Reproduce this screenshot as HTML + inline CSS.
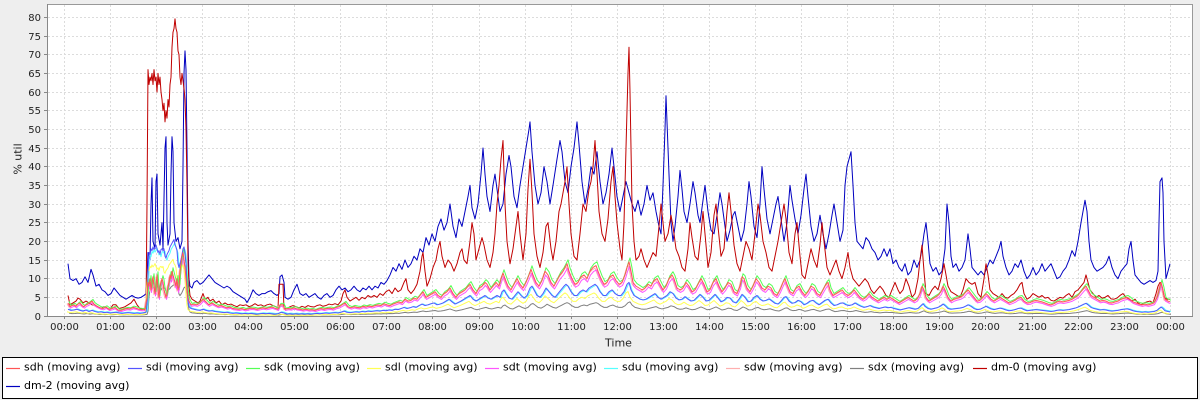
<!DOCTYPE html>
<html>
<head>
<meta charset="utf-8">
<style>
html,body{margin:0;padding:0;background:#eeeeee;}
svg{display:block;}
text{font-family:"DejaVu Sans","Liberation Sans",sans-serif;}
.tk{font-size:10px;fill:#222;}
.lab{font-size:11px;fill:#222;}
.lg{font-size:11px;fill:#000;}
.s{fill:none;stroke-width:1;vector-effect:non-scaling-stroke;stroke-linejoin:round;}
</style>
</head>
<body>
<svg width="1200" height="400" viewBox="0 0 1200 400" xmlns="http://www.w3.org/2000/svg">
<defs>
<clipPath id="pc"><rect x="48" y="4" width="1144" height="312"/></clipPath>
<polyline id="A" class="s" points="68,3.5 70,2.5 72,2.8 74,3 76,2.6 78,3.2 80,3.5 82,2.8 84,2.5 86,3 88,3.2 90,3.6 92,4 94,3.2 96,2.8 98,2.5 100,2.2 103,2 106,2.4 109,1.8 112,2 115,2.3 118,1.6 121,1.5 124,1.8 127,2 130,1.9 133,2.3 136,2.1 139,1.8 142,1.7 145,1.8 147,5 148,9 149,8 150,10 151,7 152,9 153,10.5 154,8 155,6 156,8 157,11 158,7 159,5 160,8 161,9 162,10 163,9 164,7 165,6 166,5 167,6 168,8 169,9 170,11 171,10 172,12 173,11 174,10 175,9 176,8 177,10 178,7 179,8 180,12 181,14 182,16 183,17 184,15 185,13 186,10 187,7 188,5 189,4 191,3 194,3.2 197,3 200,3.5 203,4.5 206,3.8 209,3 212,3.5 215,3 218,2.6 221,2.8 224,2.5 227,2.2 230,2.4 233,2 236,1.9 239,1.8 242,2 245,1.7 248,1.9 251,2.1 254,2 257,1.8 260,2 263,2.2 266,2 269,2.2 272,2.4 275,2.1 278,1.8 280,3 283,3 285,1.8 288,2 291,1.9 294,2.2 297,1.9 300,1.8 303,1.6 306,1.8 309,1.6 312,1.7 315,1.5 318,1.8 321,2 324,1.8 327,2 330,2.1 333,1.9 336,2.3 339,2.5 342,3 345,3.5 348,2.5 351,2.2 354,2.5 357,2.3 360,2.2 363,2.6 366,2.4 369,2.7 372,2.5 375,2.8 378,3 381,2.8 384,3.3 387,3 390,2.8 393,3.2 396,3.5 399,3.8 402,3.5 405,4.5 408,4 411,4.2 414,4.8 417,4.5 420,5.5 423,6.5 426,5 429,5.5 432,6 435,6.5 438,5.5 441,5 444,6 447,6.5 450,7.5 453,6 456,5 459,6 462,6.5 465,7 468,8 470,8.5 473,7 476,6 479,7.5 482,8 485,9 487,8.5 490,7 493,8 496,9 499,8 501,10 503,11.5 505,10 508,8 511,7 514,8.5 517,10 520,8.5 523,7.5 526,9 529,11 531,12.5 533,11 536,9 539,8 542,9.5 545,12 548,11 551,9 554,8 557,9.5 560,11 563,12 565,13 567,14 569,12 572,10 575,8.5 578,9 581,10.5 584,11 587,10 590,12 593,13 596,13.5 598,12 601,10 604,8.5 607,9 610,10.5 613,11 616,9.5 619,8.5 622,9 625,11 627,13 629,14.5 631,12 633,9 636,8 639,7.5 642,7 645,7.5 648,8.5 651,8 654,9.5 657,10 660,8.5 663,7 666,8 669,10 672,11 674,10 677,7.5 680,7 683,7.5 686,9 689,8 692,6.5 695,7 698,8.5 701,10 704,8.5 707,6.5 710,7 713,9 716,10 719,8 722,6.5 725,7.5 728,9 731,8.5 734,6.5 737,6 740,8 742,10.5 744,10 747,7.5 750,6.5 753,8 756,10 759,9 762,7.5 765,7 768,8 771,7.5 774,6 777,5.5 780,7 783,9 785,10 787,8.5 790,6.5 793,6 796,7.5 799,8 802,6.5 805,5.5 808,6.5 811,8 814,7.5 817,6 820,5.5 823,7 826,8.5 828,9 830,7 833,5.5 836,6 839,6.5 842,7 845,6 848,5.5 851,6 854,7 857,6 860,5 863,4.5 866,5 869,6 872,5 875,4.5 878,4 881,4.5 884,5 887,4.5 890,5 893,4.5 896,4 899,3.5 902,4 905,4.5 908,5 911,4.5 914,4 917,4.5 920,6 922,8 924,7 926,5 929,4 932,4.5 935,5 938,5.5 941,6.5 943,8 945,7 948,5 951,4 954,4.5 957,4.8 960,5 963,5.5 966,6.5 968,7 971,6 974,5 977,4 980,4.2 983,5 986,6 988,5.5 991,4.5 994,4 997,4.5 1000,5 1003,4.5 1006,4 1009,3.5 1012,3.8 1015,4.2 1018,4.8 1021,5 1024,4 1027,3.5 1030,3.6 1033,4 1036,4.2 1039,4 1042,3.8 1045,3.5 1048,3.2 1051,3 1054,3.3 1057,3.8 1060,4 1063,3.8 1066,4 1069,4.2 1072,4.5 1075,5 1078,5.5 1081,6.5 1084,7.5 1086,8 1088,7 1091,5.5 1094,5 1097,4.5 1100,4 1103,4.2 1106,4 1109,3.6 1112,3.5 1115,3.8 1118,4 1121,4.5 1124,4.8 1127,5 1130,4.5 1133,3.8 1136,3.5 1139,3.2 1142,3 1145,3.2 1148,3 1151,3.2 1154,3.5 1157,5 1159,7 1161,9 1163,7 1165,4.5 1168,4 1170,3.8"/>
<polyline id="B" class="s" points="68,1.8 71,1.5 74,1.6 77,1.8 80,1.5 83,1.3 86,1.6 89,1.2 92,1.5 95,1.2 98,1 101,1.1 104,0.9 107,1 110,0.8 113,0.9 116,1 119,0.8 122,0.7 125,0.8 128,0.9 131,0.8 134,0.7 137,0.8 140,0.7 143,0.8 146,1 147,3 148,12 149,17 150,16.5 151,18 152,17.5 153,18.5 154,17.8 155,18.3 156,19 157,18 158,17 159,17.5 160,16.5 161,17.8 162,18 163,17.5 164,18 165,16 166,15.5 167,16.5 168,17 169,17.5 170,18.5 171,19 172,19.5 173,20 174,20.5 175,19 176,18.5 177,17.5 178,14 179,13 180,14 181,15 182,16.5 183,18 184,18.5 185,17 186,14 187,8 188,4 189,2.5 191,2 194,1.8 197,1.6 200,1.5 203,1.8 206,1.5 209,1.3 212,1.4 215,1.2 218,1.1 221,1 224,0.9 227,1 230,0.8 233,0.7 236,0.8 239,0.7 242,0.6 245,0.7 248,0.6 251,0.7 254,0.6 257,0.5 260,0.6 263,0.7 266,0.6 269,0.7 272,0.6 275,0.5 278,0.6 281,1 284,0.8 287,0.5 290,0.6 293,0.5 296,0.6 299,0.5 302,0.6 305,0.5 308,0.6 311,0.5 314,0.6 317,0.7 320,0.6 323,0.7 326,0.8 329,0.7 332,0.8 335,0.9 338,0.8 341,1 344,1.3 347,1 350,0.9 353,1 356,1.1 359,1 362,1.2 365,1.1 368,1.3 371,1.2 374,1.3 377,1.4 380,1.3 383,1.5 386,1.4 389,1.6 392,1.5 395,1.8 398,1.7 401,2 404,2.3 407,2 410,2.2 413,2.5 416,2.3 419,2.8 422,3.2 425,2.8 428,3 431,3.3 434,3.5 437,3 440,3.2 443,3.5 446,4 449,4.5 452,3.8 455,3.2 458,3.6 461,4 464,4.5 467,5 470,5.5 473,4.5 476,4 479,4.5 482,5 485,5.5 488,4.8 491,4.5 494,5 497,5.5 500,5 502,6.5 504,7 506,6 509,4.8 512,4.5 515,5.5 518,6.5 521,5.5 524,4.8 527,5.5 530,7.5 532,8 534,7 537,5.5 540,5 543,6 546,7.5 549,6.5 552,5.5 555,5 558,6 561,7 564,8 566,8.5 568,8 571,6.5 574,5.5 577,5.5 580,6.5 583,7 586,6.5 589,7.5 592,8 595,8.5 597,8 600,6.5 603,5.5 606,5.5 609,6.5 612,7 615,6 618,5.5 621,5.5 624,6.5 627,8.5 629,9 631,7 634,5.5 637,5 640,4.5 643,4.3 646,4.5 649,5 652,5.5 655,6 658,5 661,4.5 664,5 667,5.5 670,6.5 673,6 676,4.8 679,4.3 682,4.5 685,5.2 688,4.5 691,4 694,4.2 697,5 700,5.8 703,5 706,4 709,4.2 712,5 715,5.8 718,4.8 721,3.8 724,4.2 727,5 730,4.8 733,3.8 736,3.5 739,4.5 742,5.8 745,5 748,3.8 751,4 754,5 757,5.5 760,4.5 763,4 766,4.2 769,4.6 772,4 775,3.4 778,3.2 781,4 784,5 786,5.2 789,4 792,3.4 795,3.6 798,4.2 801,3.8 804,3 807,3.4 810,4 813,4.2 816,3.5 819,3 822,3.6 825,4.2 828,4.5 831,3.5 834,2.8 837,3 840,3.4 843,3.5 846,3 849,2.8 852,3 855,3.5 858,3 861,2.6 864,2.3 867,2.5 870,2.8 873,2.4 876,2.2 879,2 882,2.2 885,2.4 888,2.2 891,2.3 894,2 897,1.8 900,1.6 903,1.8 906,2 909,2.2 912,2 915,1.8 918,2 921,2.8 923,3.3 925,2.6 928,2 931,1.8 934,2 937,2.2 940,2.6 943,3.2 945,2.8 948,2 951,1.8 954,1.9 957,2 960,2.1 963,2.3 966,2.7 968,3 971,2.6 974,2 977,1.7 980,1.8 983,2.2 986,2.6 988,2.3 991,1.9 994,1.7 997,1.9 1000,2.1 1003,1.9 1006,1.6 1009,1.4 1012,1.5 1015,1.7 1018,2 1021,2.1 1024,1.7 1027,1.4 1030,1.5 1033,1.6 1036,1.7 1039,1.6 1042,1.5 1045,1.4 1048,1.3 1051,1.2 1054,1.3 1057,1.5 1060,1.6 1063,1.5 1066,1.6 1069,1.7 1072,1.9 1075,2.1 1078,2.4 1081,2.8 1084,3.2 1086,3.4 1088,3 1091,2.3 1094,2 1097,1.8 1100,1.6 1103,1.7 1106,1.6 1109,1.4 1112,1.3 1115,1.4 1118,1.5 1121,1.7 1124,1.8 1127,1.9 1130,1.7 1133,1.4 1136,1.2 1139,1.1 1142,1 1145,1.1 1148,1 1151,1.1 1154,1.2 1157,1.5 1159,2 1161,2.4 1163,2 1165,1.4 1168,1.2 1170,1.1"/>
</defs>

<!-- plot background -->
<rect x="47.5" y="4.5" width="1145" height="312" fill="#ffffff" stroke="#999999" stroke-width="1"/>

<!-- grid -->
<g stroke="#dcdcdc" stroke-width="1" stroke-dasharray="2,2" fill="none">
<path d="M48,297.5H1192M48,278.5H1192M48,260.5H1192M48,241.5H1192M48,222.5H1192M48,204.5H1192M48,185.5H1192M48,166.5H1192M48,148.5H1192M48,129.5H1192M48,110.5H1192M48,92.5H1192M48,73.5H1192M48,54.5H1192M48,36.5H1192M48,17.5H1192"/>
<path d="M64.5,5V316M110.5,5V316M156.5,5V316M202.5,5V316M248.5,5V316M294.5,5V316M340.5,5V316M386.5,5V316M432.5,5V316M479.5,5V316M525.5,5V316M571.5,5V316M617.5,5V316M663.5,5V316M709.5,5V316M755.5,5V316M801.5,5V316M847.5,5V316M893.5,5V316M939.5,5V316M985.5,5V316M1032.5,5V316M1078.5,5V316M1124.5,5V316M1170.5,5V316"/>
</g>

<!-- series -->
<g clip-path="url(#pc)">
<g transform="translate(0,316) scale(1,-3.7333)">
<!-- dm-2 -->
<polyline class="s" stroke="#0000c0" points="68,14 70,10 73,9.5 76,10 79,8.5 82,9 85,10.5 88,9 91,12.5 93,11 96,8 99,8.5 102,7 105,6.5 108,5.5 111,6 114,7.5 117,6.5 120,5.5 123,5 126,4.5 129,5 132,5.5 135,5 138,4.8 141,5 144,5.5 146,6 147,10 148,17 150,15 151,30 152,37 153,20 155,18 156,36 157,38 158,22 160,19 162,25 163,18 165,45 166,48 167,25 168,19 170,22 171,38 172,48 173,44 174,25 176,20 178,21 180,18 182,20 183,40 184,65 185,71 186,66 187,45 188,20 189,10 190,8 192,7.5 194,9 197,9.5 200,8.5 203,9 206,10 209,11 212,10 215,9 218,8.5 221,8 224,7.5 227,8 230,7.5 233,6.5 236,6 239,5.5 242,5 245,4.5 247,3.6 250,5 253,7 256,6 259,5.5 262,6 265,6 268,6.5 271,6.8 274,6 277,5.5 279,6 280,10.5 282,11 284,9 285,5 288,4.5 291,5 294,7 297,8.5 300,6 303,5.5 306,6 309,5 312,5.5 315,6 318,5 321,4.5 324,5.5 327,6 330,5 333,5.5 336,7 339,8 342,7 345,7.5 348,6.5 351,7 354,8 357,7 360,6.5 363,7.5 366,7 369,8 372,7 375,8 378,7.5 381,9 384,8.5 387,9.5 390,11 393,13 396,12 399,14 402,12.5 405,15 408,13 411,14 414,16 417,15 420,18 423,17 426,21 429,19 432,22 435,20 438,24 441,26 444,23 447,25 450,30 453,24 456,21 459,26 462,24 465,28 468,32 470,35 472,29 475,26 478,30 481,38 483,45 485,38 487,32 490,28 493,35 495,38 497,34 500,28 503,30 506,38 509,43 511,40 514,32 517,29 520,35 523,40 526,45 529,50 530,52 532,44 535,35 538,30 541,33 544,40 547,36 550,30 553,35 557,42 560,47 562,44 565,36 568,33 571,40 574,45 577,52 579,46 582,36 585,30 588,34 591,40 594,38 597,44 600,36 603,30 606,33 609,38 612,45 614,40 617,32 620,28 623,32 626,36 629,33 632,30 635,28 638,31 641,27 644,30 647,35 650,31 653,33 656,28 659,24 661,22 663,35 665,50 666,59 667,52 669,38 671,25 673,20 675,24 678,32 680,39 682,34 684,28 687,25 690,30 693,36 695,33 698,27 700,25 703,31 705,35 708,28 711,23 714,22 717,27 720,33 722,30 725,24 727,20 730,23 733,27 735,28 738,24 741,20 744,23 747,30 749,36 751,32 754,24 757,21 760,30 762,40 764,34 767,26 770,22 773,26 776,30 778,32 781,26 784,20 787,25 790,35 792,31 795,26 798,22 801,27 804,34 806,38 808,32 811,24 814,20 817,22 820,27 823,22 826,18 829,22 832,27 834,30 837,25 840,20 843,23 845,35 847,40 849,42 851,44 853,35 855,25 857,20 860,19 863,18 866,21 869,20 872,18 875,17 878,15 881,16 884,18 887,16 890,18 893,14 896,15 899,13 902,12 905,14 908,11 911,12 914,15 917,13 920,15 922,18 924,22 926,25 928,20 930,14 933,12 936,13 939,11 942,12 945,18 947,30 949,25 951,16 953,13 956,14 959,12 962,13 965,15 968,22 970,18 972,13 975,12 978,11 981,12 984,11 987,13 990,15 993,14 996,16 999,18 1001,20 1003,16 1006,13 1009,11 1012,12 1015,14 1018,13 1021,15 1024,12 1027,10 1030,11 1033,13 1036,11 1039,12 1042,14 1045,12 1048,13 1051,14 1054,12 1057,10 1060,10.5 1063,12 1066,13 1069,15 1072,17.5 1075,16 1078,20 1081,25 1083,28 1085,31 1087,28 1089,20 1091,15 1094,13 1097,12 1100,12.5 1103,13 1106,14 1109,16 1112,13 1115,11 1118,10 1121,12 1124,13 1127,14 1129,18 1131,20 1133,15 1135,11 1138,10 1141,9 1144,8.5 1147,9 1150,9.5 1153,9 1156,9.5 1158,12 1159,25 1160,36 1162,37 1163,33 1164,20 1166,10 1168,12 1170,14"/>
<!-- dm-0 -->
<polyline class="s" stroke="#c00000" points="68,5.5 70,3 73,3.5 76,4 78,4.8 80,4.5 83,3.5 86,4 89,3.5 92,3 95,2.8 98,2.3 101,2 104,2.5 107,2 110,1.8 113,3 116,3 119,2 122,2.2 125,2.5 128,3 131,3.5 134,4.5 137,3 140,2 143,1.8 146,1.5 147,30 148,66 149,62 150,64 151,63 152,65 153,62 154,66 155,63 156,64 157,60 158,65 159,62 160,64 161,60 162,58 163,55 164,57 165,52 166,55 167,53 168,58 169,56 170,62 171,64 172,72 173,76 174,77 175,79.6 176,77 177,76 178,71 179,70 180,64 181,62 182,65 183,63 184,61 185,58 186,50 187,35 188,15 189,8 190,5.5 192,4.5 195,4 198,3.5 200,4 203,6 205,4.5 208,5 210,4 213,4.5 216,3.5 219,4 222,3 225,3.5 228,3 231,3.2 234,2.8 237,2.5 240,3 243,2.8 246,3 249,2.5 252,2.8 255,3.3 258,2.8 261,3 264,2.6 267,3 270,3.2 273,2.8 276,2.5 278,2 279,8.5 283,8.5 284,2 287,2 290,2.5 293,2.8 296,2.5 299,2.2 302,2.6 305,2.3 308,2.8 311,2.5 314,2.4 317,2.8 320,3 323,2.6 326,2.8 329,3.2 332,3 335,3.3 338,3 341,4 343,6 345,7 347,5 350,4 353,4.5 356,5 359,4.2 362,5 365,4.6 368,5.5 371,5 374,5.5 377,5 380,6 383,5.5 386,6.5 389,7 392,6 395,7.5 398,6.5 401,7 404,9 406,10 408,7 411,6 414,7 417,8.5 420,12 422,16 423,17 425,12 427,8 430,10 433,13 436,15 438,18 440,20 442,16 445,13 448,15 451,14 454,12 457,14 460,17 462,18 464,15 467,14 470,20 472,25 474,22 476,15 479,18 482,21 484,19 487,15 490,13 493,17 495,22 497,30 499,35 501,42 503,47 505,30 507,20 510,14 513,18 516,24 518,28 520,22 523,15 526,22 528,34 530,42 532,33 534,22 537,16 540,13 543,17 546,24 548,25 551,18 553,15 556,20 559,28 561,30 563,33 565,36 567,40 569,30 571,22 574,16 577,15 580,22 583,30 586,28 589,34 591,36 593,40 595,47 597,38 599,28 602,22 605,20 608,26 611,36 613,40 615,32 617,25 620,18 622,15 624,25 626,45 628,65 629,72 630,60 632,30 634,20 636,15 639,16 641,18 644,15 647,13 650,15 653,17 656,16 659,24 661,30 663,25 665,20 668,22 671,27 673,24 676,18 679,16 682,13 685,12 688,18 690,25 692,21 695,16 698,15 701,22 703,28 705,22 708,13 711,17 714,27 716,30 718,24 721,16 724,18 727,28 729,33 731,28 734,19 737,14 740,12 743,16 746,20 749,18 752,15 755,22 758,30 760,27 763,20 766,17 769,13 772,12 775,16 778,20 781,25 784,30 786,26 789,17 792,14 795,22 797,25 800,16 802,11 805,10 808,14 811,18 814,15 817,13 820,19 822,25 824,20 827,13 830,11 833,13 836,15 839,12 842,10 845,13 848,17 850,13 853,10 856,9 859,8 862,9 865,10 868,9 871,7 874,6 877,7 880,8 883,7 886,5.5 889,5 892,7 895,9 898,7 900,6 903,7 906,10 909,8 912,5 915,6 918,10 920,15 922,19 924,12 926,6 929,5.5 932,7 935,8 938,7 941,10 944,14 946,11 948,8 951,6.5 954,6 957,5.5 960,5 963,7 966,10 969,9 972,8.5 975,9 978,6 981,5 984,10 986,14 988,11 990,7 993,6 996,5.5 999,5 1002,6 1005,5 1008,4.8 1011,5.5 1014,6 1017,7 1020,8.5 1022,9 1024,6 1027,4.5 1030,5 1033,6 1036,5.5 1039,5 1042,5.5 1045,4.8 1048,5 1051,4.2 1054,4 1057,4.5 1060,5 1063,4.8 1066,5.5 1069,6 1072,5 1075,6.5 1078,7 1081,8 1084,9 1086,11 1088,9 1090,7 1093,6 1096,5 1099,5.5 1102,4.8 1105,5 1108,5.5 1111,4.6 1114,4.5 1117,4.8 1120,5.5 1123,6 1126,5 1129,4.5 1132,4 1135,4.5 1138,3.5 1141,3 1144,3.5 1147,3.8 1150,4 1153,3.5 1156,6 1158,8 1160,9 1162,8 1164,5 1167,4.5 1170,4.5"/>
<!-- sdx gray -->
<use href="#B" stroke="#808080" fill="none" transform="translate(1,0) scale(1,0.42)"/>
<!-- sdw pink -->
<use href="#A" stroke="#ffafaf" fill="none" transform="translate(-1,0) scale(1,0.95)"/>
<!-- sdu cyan -->
<use href="#B" stroke="#55ffff" fill="none" transform="translate(1,0.2) scale(1,0.95)"/>
<!-- sdt magenta -->
<use href="#A" stroke="#ff55ff" fill="none" transform="translate(0.5,-0.2) scale(1,0.93)"/>
<!-- sdl yellow -->
<use href="#B" stroke="#ffff55" fill="none" transform="translate(-1,-0.2) scale(1,0.75)"/>
<!-- sdk green -->
<use href="#A" stroke="#55ff55" fill="none" transform="translate(1,0.2) scale(1,1.06)"/>
<!-- sdi blue -->
<use href="#B" stroke="#5555ff" fill="none"/>
<!-- sdh red -->
<use href="#A" stroke="#ff5555" fill="none"/>
</g>
</g>

<!-- axes -->
<g stroke="#888888" stroke-width="1" fill="none">
<path d="M47.5,4V317M47,316.5H1193"/>
<path d="M44,297.5H47M44,278.5H47M44,260.5H47M44,241.5H47M44,222.5H47M44,204.5H47M44,185.5H47M44,166.5H47M44,148.5H47M44,129.5H47M44,110.5H47M44,92.5H47M44,73.5H47M44,54.5H47M44,36.5H47M44,17.5H47M44,316.5H47"/>
<path d="M64.5,317V319M110.5,317V319M156.5,317V319M202.5,317V319M248.5,317V319M294.5,317V319M340.5,317V319M386.5,317V319M432.5,317V319M479.5,317V319M525.5,317V319M571.5,317V319M617.5,317V319M663.5,317V319M709.5,317V319M755.5,317V319M801.5,317V319M847.5,317V319M893.5,317V319M939.5,317V319M985.5,317V319M1032.5,317V319M1078.5,317V319M1124.5,317V319M1170.5,317V319"/>
</g>

<!-- y tick labels -->
<g class="tk" text-anchor="end">
<text x="41" y="320">0</text>
<text x="41" y="301">5</text>
<text x="41" y="282">10</text>
<text x="41" y="264">15</text>
<text x="41" y="245">20</text>
<text x="41" y="226">25</text>
<text x="41" y="208">30</text>
<text x="41" y="189">35</text>
<text x="41" y="170">40</text>
<text x="41" y="152">45</text>
<text x="41" y="133">50</text>
<text x="41" y="114">55</text>
<text x="41" y="96">60</text>
<text x="41" y="77">65</text>
<text x="41" y="58">70</text>
<text x="41" y="40">75</text>
<text x="41" y="21">80</text>
</g>

<!-- x tick labels -->
<g class="tk" text-anchor="middle">
<text x="64.5" y="330">00:00</text>
<text x="110.5" y="330">01:00</text>
<text x="156.5" y="330">02:00</text>
<text x="202.5" y="330">03:00</text>
<text x="248.5" y="330">04:00</text>
<text x="294.5" y="330">05:00</text>
<text x="340.5" y="330">06:00</text>
<text x="386.5" y="330">07:00</text>
<text x="432.5" y="330">08:00</text>
<text x="479.5" y="330">09:00</text>
<text x="525.5" y="330">10:00</text>
<text x="571.5" y="330">11:00</text>
<text x="617.5" y="330">12:00</text>
<text x="663.5" y="330">13:00</text>
<text x="709.5" y="330">14:00</text>
<text x="755.5" y="330">15:00</text>
<text x="801.5" y="330">16:00</text>
<text x="847.5" y="330">17:00</text>
<text x="893.5" y="330">18:00</text>
<text x="939.5" y="330">19:00</text>
<text x="985.5" y="330">20:00</text>
<text x="1032.5" y="330">21:00</text>
<text x="1078.5" y="330">22:00</text>
<text x="1124.5" y="330">23:00</text>
<text x="1170.5" y="330">00:00</text>
</g>

<!-- axis labels -->
<text class="lab" x="618.5" y="346.5" text-anchor="middle">Time</text>
<text class="lab" transform="translate(21.5,159) rotate(-90)" text-anchor="middle">% util</text>

<!-- legend -->
<rect x="2.5" y="357.5" width="1195" height="41" fill="#ffffff" stroke="#000000" stroke-width="1"/>
<g stroke-width="1.2" fill="none">
<path d="M6,368.5H20" stroke="#ff5555"/>
<path d="M128,368.5H142" stroke="#5555ff"/>
<path d="M246,368.5H260" stroke="#55ff55"/>
<path d="M367,368.5H381" stroke="#ffff55"/>
<path d="M485,368.5H499" stroke="#ff55ff"/>
<path d="M604,368.5H618" stroke="#55ffff"/>
<path d="M726,368.5H740" stroke="#ffafaf"/>
<path d="M850,368.5H864" stroke="#808080"/>
<path d="M973,368.5H987" stroke="#c00000"/>
<path d="M6,386.5H20" stroke="#0000c0"/>
</g>
<g class="lg">
<text x="24" y="370.5">sdh (moving avg)</text>
<text x="146" y="370.5">sdi (moving avg)</text>
<text x="264" y="370.5">sdk (moving avg)</text>
<text x="385" y="370.5">sdl (moving avg)</text>
<text x="503" y="370.5">sdt (moving avg)</text>
<text x="622" y="370.5">sdu (moving avg)</text>
<text x="744" y="370.5">sdw (moving avg)</text>
<text x="868" y="370.5">sdx (moving avg)</text>
<text x="991" y="370.5">dm-0 (moving avg)</text>
<text x="24" y="389">dm-2 (moving avg)</text>
</g>
</svg>
</body>
</html>
